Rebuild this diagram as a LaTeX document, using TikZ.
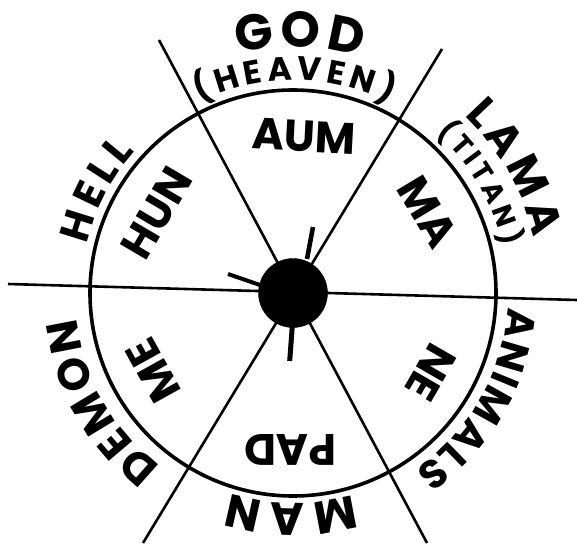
\documentclass[tikz,border=0pt]{standalone}
\usepackage{fontspec}
\setmainfont{Poppins}
\usetikzlibrary{decorations.text}
\tikzset{
  syl/.style={inner sep=0pt, font=\fontsize{44}{44}\selectfont\bfseries},
  spoke/.style={line width=2.6pt},
}
% text along an arc, clockwise, letters facing out
\newcommand\ringtext[5]{%
  \path[decorate, decoration={text along path, text align=fit to path,
      text={|\fontsize{#4}{#4}\selectfont\bfseries|#5}}]
    (#2:#1) arc[start angle=#2, end angle=#3, radius=#1];}
\begin{document}
\begin{tikzpicture}[x=1pt, y=1pt]
  \useasboundingbox (-293,-253) rectangle (284,293);
  \coordinate (hub) at (0,0);
  \coordinate (nw) at (-134,253);
  \coordinate (se) at (134,-250);
  \coordinate (ne) at (149,244);
  \coordinate (sw) at (-150,-250);
  \coordinate (w) at (-285,9);
  \coordinate (e) at (284,-7);
  \draw[spoke] (nw) -- (se);
  \draw[spoke] (ne) -- (sw);
  \draw[spoke] (w) -- (e);
  \draw[line width=3.6pt] (hub) circle[radius=203];
  \filldraw (hub) circle[radius=34.5];
  \draw[line width=4.6pt] (14,34) -- (20,66);
  \draw[line width=4pt] (-33,8) -- (-65,19);
  \draw[line width=5pt] (-0.7,-33) -- (-3.3,-68);
  % inner syllables
  \node[syl, rotate=-3] (aum) at (86:157) {AUM};
  \node[syl, rotate=-59] (ma) at (31:157) {MA};
  \node[syl, rotate=-120] (ne) at (-30:159) {NE};
  \node[syl, rotate=180] (pad) at (-91:157) {PAD};
  \node[syl, rotate=119] (me) at (-151:160) {ME};
  \node[syl, rotate=59.5] (hun) at (149.5:158) {HUN};
  % outer realms
  \ringtext{246}{103}{74}{50}{GOD}
  \ringtext{213}{116}{63}{33}{(HEAVEN)}
  \ringtext{247}{46}{13}{44}{LAMA}
  \ringtext{215}{48}{12.5}{28}{(TITAN)}
  \ringtext{215}{-3.8}{-55.4}{40}{ANIMALS}
  \ringtext{210}{-73.4}{-107.5}{46}{MAN}
  \ringtext{218}{-127.4}{-173.4}{44}{DEMON}
  \ringtext{212}{166.7}{138}{41}{HELL}
\end{tikzpicture}
\end{document}
